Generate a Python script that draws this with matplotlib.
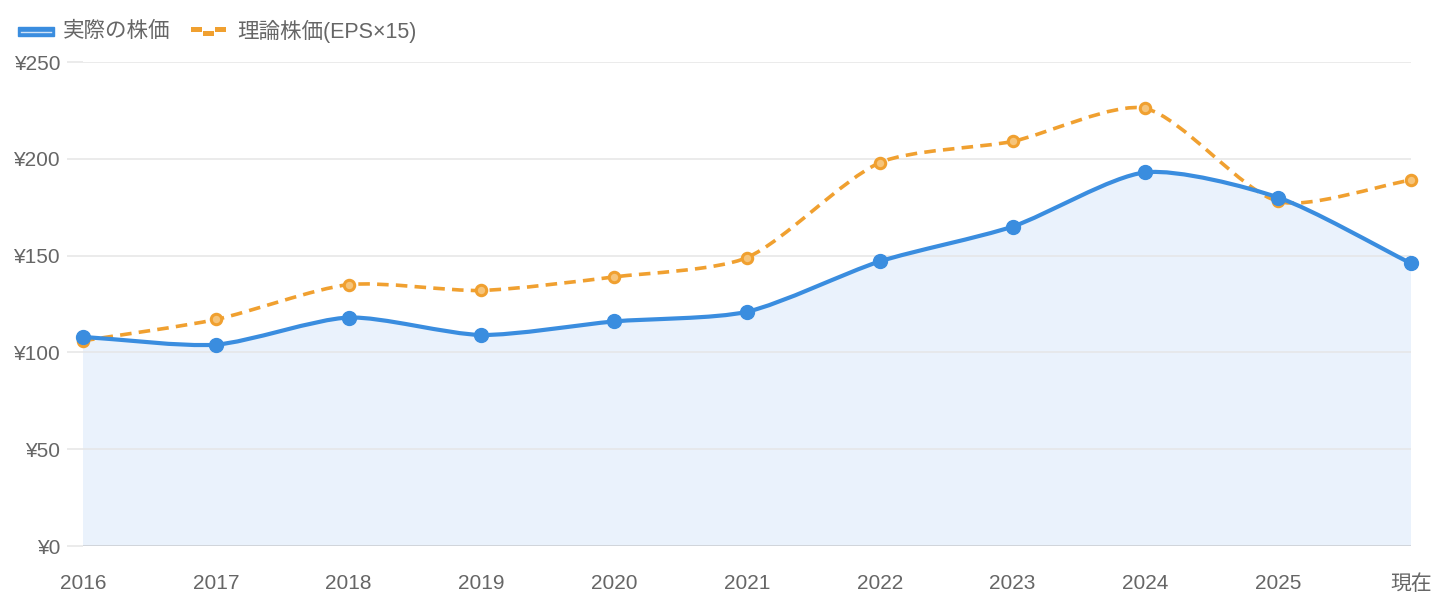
import numpy as np
import matplotlib.pyplot as plt
from matplotlib.path import Path
from matplotlib.patches import PathPatch, Rectangle
from matplotlib.lines import Line2D

plt.rcParams['font.family'] = ['Liberation Sans', 'Noto Sans CJK JP', 'DejaVu Sans']

# =========================
# DATA
# =========================
labels = ['2016', '2017', '2018', '2019', '2020', '2021', '2022', '2023', '2024', '2025', '現在']
actual_price = [108, 104, 118, 109, 116, 121, 147, 165, 193, 180, 146]
theory_price = [106, 117, 135, 132, 139, 149, 198, 209, 226, 178, 189]
series_names = ['実際の株価', '理論株価(EPS×15)']
y_ticks = [0, 50, 100, 150, 200, 250]

BLUE = '#3a8ddf'
ORANGE = '#f0a030'
FILL = '#eaf2fc'
GRID = '#e6e6e6'
TEXT = '#666666'
TENSION = 0.25


def smooth_path(ax, xs, ys, tension=TENSION):
    """Chart.js style spline, control points computed in pixel space."""
    pts = ax.transData.transform(np.column_stack([xs, ys]))
    n = len(pts)
    verts = [pts[0]]
    codes = [Path.MOVETO]
    cps = []
    for i in range(n):
        prev = pts[i - 1] if i > 0 else pts[i]
        cur = pts[i]
        nxt = pts[i + 1] if i < n - 1 else pts[i]
        d01 = np.hypot(*(cur - prev))
        d12 = np.hypot(*(nxt - cur))
        tot = d01 + d12
        s01 = d01 / tot if tot else 0
        s12 = d12 / tot if tot else 0
        fa = tension * s01
        fb = tension * s12
        cps.append((cur - fa * (nxt - prev), cur + fb * (nxt - prev)))
    for i in range(1, n):
        verts += [cps[i - 1][1], cps[i][0], pts[i]]
        codes += [Path.CURVE4] * 3
    verts = ax.transData.inverted().transform(np.array(verts))
    return verts, codes


fig = plt.figure(figsize=(14.4, 6), dpi=100)
ax = fig.add_axes([83 / 1440, 54 / 600, (1411 - 83) / 1440, (546 - 62) / 600])
x = np.arange(len(labels))
ax.set_xlim(0, len(labels) - 1)
ax.set_ylim(0, 250)

# grid & axes
for spine in ax.spines.values():
    spine.set_visible(False)
ax.set_yticks(y_ticks)
ax.set_yticklabels([f'¥{v}' for v in y_ticks])
ax.set_xticks(x)
ax.set_xticklabels(labels)
ax.yaxis.grid(True, color=GRID, linewidth=1.1)
ax.tick_params(axis='y', length=11.5, color=GRID, width=1.1, labelsize=15, labelcolor=TEXT, pad=5)
ax.tick_params(axis='x', length=0, labelsize=15, labelcolor=TEXT, pad=20)
ax.axhline(0, color='#cfd3da', linewidth=1.3, zorder=2)

# theoretical price (dashed)
verts, codes = smooth_path(ax, x, theory_price)
ax.add_patch(PathPatch(Path(verts, codes), fill=False, edgecolor=ORANGE, linewidth=2.6,
                       linestyle=(0, (3.2, 2.0)), zorder=3))
ax.plot(x, theory_price, linestyle='none', marker='o', markersize=7.5, markerfacecolor='#f6c47a',
        markeredgecolor=ORANGE, markeredgewidth=2.2, zorder=4, clip_on=False)

# actual price (filled)
verts, codes = smooth_path(ax, x, actual_price)
fill_verts = np.vstack([verts, [[x[-1], 0], [x[0], 0], [x[0], 0]]])
fill_codes = codes + [Path.LINETO, Path.LINETO, Path.CLOSEPOLY]
ax.add_patch(PathPatch(Path(fill_verts, fill_codes), facecolor=FILL, edgecolor='none', zorder=1))
ax.add_patch(PathPatch(Path(verts, codes), fill=False, edgecolor=BLUE, linewidth=3.0, zorder=5))
ax.plot(x, actual_price, linestyle='none', marker='o', markersize=10, markerfacecolor=BLUE,
        markeredgecolor=BLUE, zorder=6, clip_on=False)

# legend drawn by hand at top left
def fx(px):
    return px / 1440


def fy(py):
    return 1 - py / 600


fig.add_artist(Rectangle((fx(18), fy(36)), fx(36), 9 / 600, facecolor=BLUE, edgecolor=BLUE,
                         transform=fig.transFigure))
fig.add_artist(Line2D([fx(21), fx(51)], [fy(31.5), fy(31.5)], color='#cfe2f7', linewidth=1,
                      transform=fig.transFigure))
fig.text(fx(63), fy(31), series_names[0], fontsize=15.5, color=TEXT, va='center', ha='left')
for x0, y0 in [(191, 27), (203, 31), (215, 27)]:
    fig.add_artist(Rectangle((fx(x0), fy(y0 + 4.5)), fx(11), 4 / 600, facecolor=ORANGE,
                             edgecolor='none', transform=fig.transFigure))
fig.text(fx(237), fy(31), series_names[1], fontsize=15.5, color=TEXT, va='center', ha='left')

fig.savefig('out.png', dpi=100)
